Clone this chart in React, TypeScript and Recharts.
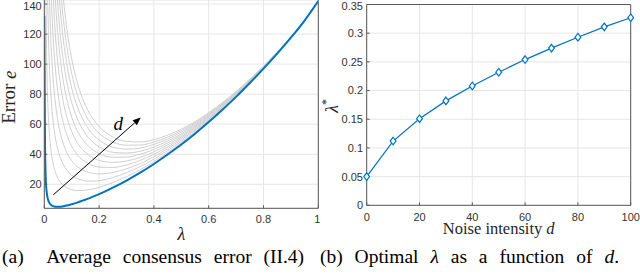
import React from 'react'
import {
  LineChart,
  Line,
  XAxis,
  YAxis,
  CartesianGrid,
  ReferenceLine,
  ReferenceDot,
  Label
} from 'recharts'

const SANS = 'Liberation Sans, Arial, Helvetica, sans-serif'
const SERIF = 'Liberation Serif, DejaVu Serif, Times New Roman, Times, serif'
const BLUE = '#0072BD'
const GREY = '#cfcfcf'
const AXIS = '#595959'
const GRID = '#e6e6e6'
const TEXT = '#262626'

// (a) average consensus error e against lambda, one curve per noise level d
const LAMBDA = [
  0, 0.0025, 0.005, 0.0075, 0.01, 0.015, 0.02, 0.025, 0.03, 0.04, 0.05, 0.06,
  0.07, 0.08, 0.09, 0.1, 0.12, 0.14, 0.16, 0.18, 0.2, 0.25, 0.3, 0.35, 0.4,
  0.45, 0.5, 0.55, 0.6, 0.65, 0.7, 0.75, 0.8, 0.85, 0.9, 0.95, 1
]
// d = 0 (blue)
const ERR_D0 = [
  132, 50.1, 25.2, 17.0, 13.0, 9.0, 7.2, 6.2, 5.6, 5.1, 5.0, 5.1,
  5.4, 5.8, 6.2, 6.7, 7.8, 9.1, 10.4, 11.9, 13.4, 17.7, 22.5, 27.7, 33.5,
  39.8, 46.5, 53.7, 61.4, 69.6, 78.2, 87.4, 97.0, 107.0, 117.6, 129.0, 142
]
// d = 10 ... 100 (grey), null where the curve is far above the frame
const ERR_D10 = [
  null, null, 168.7, 118.3, 92.0, 64.5, 50.4, 41.6, 35.7, 28.3, 23.9, 21.0,
  19.2, 17.9, 17.0, 16.4, 15.8, 15.9, 16.3, 17.0, 17.9, 21.1, 25.1, 29.7, 35.1,
  41.1, 47.5, 54.5, 62.0, 70.1, 78.6, 87.7, 97.2, 107.1, 117.7, 129.0, 142
]
const ERR_D20 = [
  null, null, null, null, 171.0, 120.0, 93.5, 77.0, 65.8, 51.5, 42.8, 37.0,
  32.9, 30.0, 27.7, 26.0, 23.8, 22.7, 22.1, 22.1, 22.4, 24.5, 27.7, 31.8, 36.7,
  42.4, 48.5, 55.3, 62.7, 70.6, 78.9, 87.9, 97.3, 107.2, 117.7, 129.0, 142
]
const ERR_D30 = [
  null, null, null, null, null, 175.5, 136.7, 112.5, 95.9, 74.8, 61.7, 52.9,
  46.7, 42.0, 38.5, 35.7, 31.8, 29.5, 28.0, 27.2, 26.9, 27.8, 30.3, 33.8, 38.4,
  43.7, 49.6, 56.1, 63.3, 71.0, 79.3, 88.2, 97.5, 107.3, 117.8, 129.1, 142
]
const ERR_D40 = [
  null, null, null, null, null, null, 179.8, 147.9, 126.0, 98.0, 80.6, 68.8,
  60.4, 54.1, 49.2, 45.4, 39.8, 36.2, 33.8, 32.3, 31.4, 31.2, 32.9, 35.9, 40.0,
  44.9, 50.6, 56.9, 63.9, 71.5, 79.6, 88.4, 97.7, 107.4, 117.8, 129.1, 142
]
const ERR_D50 = [
  null, null, null, null, null, null, null, null, 156.2, 121.2, 99.6, 84.8,
  74.2, 66.2, 60.0, 55.1, 47.8, 43.0, 39.7, 37.4, 35.9, 34.6, 35.5, 37.9, 41.6,
  46.2, 51.6, 57.7, 64.5, 72.0, 80.0, 88.7, 97.9, 107.5, 117.9, 129.1, 142
]
const ERR_D60 = [
  null, null, null, null, null, null, null, null, 186.3, 144.4, 118.5, 100.7,
  88.0, 78.3, 70.8, 64.7, 55.8, 49.8, 45.5, 42.5, 40.4, 38.0, 38.1, 40.0, 43.2,
  47.5, 52.6, 58.5, 65.2, 72.5, 80.3, 88.9, 98.0, 107.6, 117.9, 129.1, 142
]
const ERR_D70 = [
  null, null, null, null, null, null, null, null, null, 167.6, 137.4, 116.6,
  101.7, 90.4, 81.5, 74.4, 63.9, 56.6, 51.4, 47.6, 44.9, 41.3, 40.8, 42.0, 44.8,
  48.8, 53.6, 59.3, 65.8, 72.9, 80.7, 89.2, 98.2, 107.7, 118.0, 129.2, 142
]
const ERR_D80 = [
  null, null, null, null, null, null, null, null, null, null, 156.3, 132.5,
  115.5, 102.4, 92.3, 84.1, 71.9, 63.4, 57.2, 52.7, 49.4, 44.7, 43.4, 44.1, 46.5,
  50.1, 54.7, 60.1, 66.4, 73.4, 81.0, 89.4, 98.4, 107.9, 118.0, 129.2, 142
]
const ERR_D90 = [
  null, null, null, null, null, null, null, null, null, null, 175.2, 148.5,
  129.2, 114.5, 103.0, 93.7, 79.9, 70.2, 63.1, 57.8, 53.9, 48.1, 46.0, 46.1, 48.1,
  51.4, 55.7, 60.9, 67.0, 73.9, 81.4, 89.7, 98.6, 108.0, 118.1, 129.2, 142
]
const ERR_D100 = [
  null, null, null, null, null, null, null, null, null, null, null, 164.4,
  143.0, 126.6, 113.8, 103.4, 87.9, 77.0, 68.9, 62.9, 58.4, 51.5, 48.6, 48.2, 49.7,
  52.7, 56.7, 61.7, 67.7, 74.4, 81.8, 90.0, 98.7, 108.1, 118.2, 129.2, 142
]
const LAMBDA_TICKS = [0, 0.2, 0.4, 0.6, 0.8, 1]
const ERR_TICKS = [20, 40, 60, 80, 100, 120, 140]

// (b) optimal lambda against noise intensity d
const NOISE = [0, 10, 20, 30, 40, 50, 60, 70, 80, 90, 100]
const LAMBDA_OPT = [0.05, 0.112, 0.151, 0.182, 0.208, 0.232, 0.254, 0.274, 0.293, 0.311, 0.327]
const NOISE_TICKS = [0, 20, 40, 60, 80, 100]
const OPT_TICKS = [0, 0.05, 0.1, 0.15, 0.2, 0.25, 0.3, 0.35]

const GREY_SERIES = [
  ERR_D10, ERR_D20, ERR_D30, ERR_D40, ERR_D50,
  ERR_D60, ERR_D70, ERR_D80, ERR_D90, ERR_D100
]

const errorData = LAMBDA.map((l, i) => {
  const row: any = { l, d0: ERR_D0[i] }
  GREY_SERIES.forEach((s, k) => {
    row['d' + (k + 1) * 10] = s[i]
  })
  return row
})

const optData = NOISE.map((d, i) => ({ d, l: LAMBDA_OPT[i] }))

const tickStyle = { fill: '#333', fontSize: 11, fontFamily: SANS }

// arrow annotation drawn along the reference segment
const Arrow = (p: any) => {
  const { x1, y1, x2, y2 } = p
  const a = Math.atan2(y2 - y1, x2 - x1)
  const len = 8
  const w = 3.2
  const bx = x2 - len * Math.cos(a)
  const by = y2 - len * Math.sin(a)
  const px = -Math.sin(a) * w
  const py = Math.cos(a) * w
  return (
    <g>
      <line x1={x1} y1={y1} x2={bx} y2={by} stroke="#000" strokeWidth={1} />
      <polygon
        points={`${x2},${y2} ${bx + px},${by + py} ${bx - px},${by - py}`}
        fill="#000"
      />
    </g>
  )
}

const DLabel = (p: any) => (
  <text
    x={p.cx}
    y={p.cy}
    textAnchor="middle"
    dominantBaseline="central"
    style={{ fontFamily: SERIF, fontStyle: 'italic', fontSize: 19 }}
    fill="#000"
  >
    d
  </text>
)

const Diamond = (p: any) => {
  const { cx, cy, index } = p
  if (cx == null || cy == null) return null
  return (
    <path
      key={`dm-${index}`}
      d={`M${cx},${cy - 3.8}L${cx + 2.9},${cy}L${cx},${cy + 3.8}L${cx - 2.9},${cy}Z`}
      fill="#fff"
      stroke={BLUE}
      strokeWidth={1.2}
    />
  )
}

function ErrorChart() {
  return (
    <LineChart
      width={320}
      height={274}
      data={errorData}
      margin={{ top: 0, right: 1.7, left: 0, bottom: 34 }}
    >
      <CartesianGrid stroke={GRID} />
      <XAxis
        dataKey="l"
        type="number"
        domain={[0, 1]}
        ticks={LAMBDA_TICKS}
        allowDataOverflow
        height={31.7}
        tick={tickStyle}
        tickSize={-3}
        tickMargin={9.7}
        axisLine={{ stroke: AXIS }}
        tickLine={{ stroke: AXIS }}
        tickFormatter={(v: number) => String(v)}
      >
        <Label
          content={({ viewBox }: any) => (
            <text
              x={viewBox.x + viewBox.width / 2}
              y={viewBox.y + 31.5}
              textAnchor="middle"
              style={{ fontFamily: SERIF, fontStyle: 'italic', fontSize: 18 }}
              fill={TEXT}
            >
              λ
            </text>
          )}
        />
      </XAxis>
      <YAxis
        type="number"
        domain={[4, 142.7]}
        ticks={ERR_TICKS}
        allowDataOverflow
        width={44.3}
        tick={tickStyle}
        tickSize={-3}
        tickMargin={5.6}
        axisLine={{ stroke: AXIS }}
        tickLine={{ stroke: AXIS }}
      >
        <Label
          content={({ viewBox }: any) => {
            const x = viewBox.x + 9
            const y = viewBox.y + viewBox.height / 2 - 7
            return (
              <text
                x={x}
                y={y}
                transform={`rotate(-90 ${x} ${y})`}
                textAnchor="middle"
                dominantBaseline="central"
                style={{ fontFamily: SERIF, fontSize: 19 }}
                fill={TEXT}
              >
                Error <tspan style={{ fontStyle: 'italic' }}>e</tspan>
              </text>
            )
          }}
        />
      </YAxis>
      <ReferenceLine x={1} stroke={AXIS} />
      {GREY_SERIES.map((_, k) => (
        <Line
          key={k}
          dataKey={'d' + (k + 1) * 10}
          type="monotone"
          stroke={GREY}
          strokeWidth={1}
          dot={false}
          isAnimationActive={false}
        />
      ))}
      <Line
        dataKey="d0"
        type="monotone"
        stroke={BLUE}
        strokeWidth={2}
        dot={false}
        isAnimationActive={false}
      />
      <ReferenceLine
        segment={[{ x: 0.033, y: 13 }, { x: 0.352, y: 64.5 }]}
        shape={Arrow}
        ifOverflow="visible"
      />
      <ReferenceDot x={0.27} y={60.5} r={0} shape={DLabel} ifOverflow="visible" />
    </LineChart>
  )
}

function OptimalChart() {
  return (
    <LineChart
      width={320}
      height={274}
      data={optData}
      margin={{ top: 4.5, right: 9.3, left: 0, bottom: 40.5 }}
    >
      <CartesianGrid stroke={GRID} />
      <XAxis
        dataKey="d"
        type="number"
        domain={[0, 100]}
        ticks={NOISE_TICKS}
        height={28.2}
        tick={tickStyle}
        tickSize={-3}
        tickMargin={10.4}
        axisLine={{ stroke: AXIS }}
        tickLine={{ stroke: AXIS }}
      >
        <Label
          content={({ viewBox }: any) => (
            <text
              x={viewBox.x + viewBox.width / 2}
              y={viewBox.y + 29}
              textAnchor="middle"
              style={{ fontFamily: SERIF, fontSize: 16.5 }}
              fill={TEXT}
            >
              Noise intensity <tspan style={{ fontStyle: 'italic' }}>d</tspan>
            </text>
          )}
        />
      </XAxis>
      <YAxis
        type="number"
        domain={[0, 0.35]}
        ticks={OPT_TICKS}
        width={46.7}
        tick={tickStyle}
        tickSize={-3}
        tickMargin={6.7}
        axisLine={{ stroke: AXIS }}
        tickLine={{ stroke: AXIS }}
        tickFormatter={(v: number) => String(v)}
      >
        <Label
          content={({ viewBox }: any) => {
            const x = viewBox.x + 12
            const y = viewBox.y + viewBox.height / 2 + 1
            return (
              <text
                x={x}
                y={y}
                transform={`rotate(-90 ${x} ${y})`}
                textAnchor="middle"
                dominantBaseline="central"
                style={{ fontFamily: SERIF, fontSize: 18 }}
                fill={TEXT}
              >
                <tspan style={{ fontStyle: 'italic' }}>λ</tspan>
                <tspan style={{ fontSize: 12 }} dy={-6}>*</tspan>
              </text>
            )
          }}
        />
      </YAxis>
      <ReferenceLine y={0.35} stroke={AXIS} />
      <ReferenceLine x={100} stroke={AXIS} />
      <Line
        dataKey="l"
        type="linear"
        stroke={BLUE}
        strokeWidth={1.2}
        dot={Diamond}
        isAnimationActive={false}
      />
    </LineChart>
  )
}

export default function App() {
  const captionStyle: React.CSSProperties = {
    fontFamily: SERIF,
    fontSize: 19.5,
    fill: '#000',
    whiteSpace: 'pre',
    wordSpacing: 7
  }
  return (
    <div style={{ position: 'absolute', left: 0, top: 0, width: 640, height: 274, background: '#fff' }}>
      <div style={{ position: 'absolute', left: 0, top: 0 }}>
        <ErrorChart />
      </div>
      <div style={{ position: 'absolute', left: 320, top: 0 }}>
        <OptimalChart />
      </div>
      <svg
        width={640}
        height={274}
        style={{ position: 'absolute', left: 0, top: 0, pointerEvents: 'none' }}
      >
        <text x={2} y={263} style={captionStyle}>
          (a)  Average consensus error (II.4)
        </text>
        <text x={320} y={263} style={captionStyle}>
          (b) Optimal <tspan style={{ fontStyle: 'italic' }}>λ</tspan> as a function of{' '}
          <tspan style={{ fontStyle: 'italic' }}>d</tspan>.
        </text>
      </svg>
    </div>
  )
}
